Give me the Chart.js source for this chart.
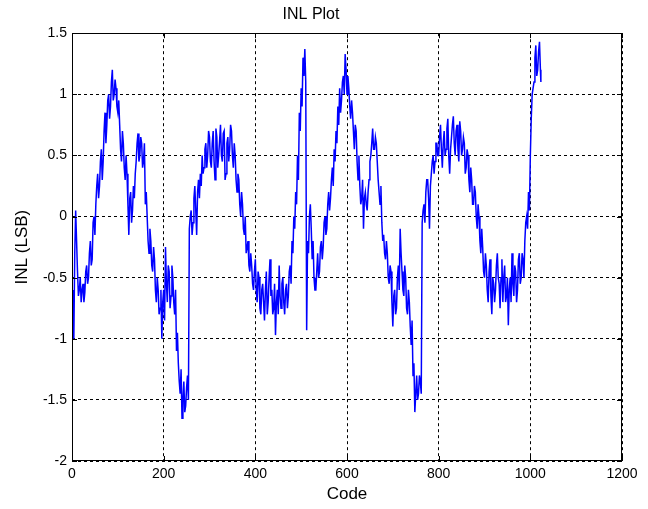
<!DOCTYPE html>
<html>
<head>
<meta charset="utf-8">
<script src="https://cdn.jsdelivr.net/npm/chart.js@4/dist/chart.umd.min.js"></script>
<style>
html,body{margin:0;padding:0;background:#fff;}
#wrap{width:648px;height:509px;}
</style>
</head>
<body>
<div id="wrap"><canvas id="c" width="648" height="509"></canvas></div>
<script>
// INL values at codes 0,4,8,... (last one at code 1023)
const inl = [
 -0.6,-1.0,0.05,-0.45,-0.6,-0.7,-0.55,-0.62,-0.4,-0.5,
 -0.2,-0.35,0.0,0.1,0.35,0.25,0.55,0.45,0.85,0.75,
 1.0,0.9,1.2,1.0,1.05,0.85,0.75,0.45,0.6,0.3,
 0.35,-0.15,0.2,0.05,0.15,0.45,0.68,0.5,0.6,0.45,
 0.1,0.0,-0.3,-0.2,-0.45,-0.35,-0.7,-0.6,-0.75,-1.0,
 -0.6,-0.25,-0.7,-0.45,-0.65,-0.5,-0.8,-1.1,-1.2,-1.45,
 -1.65,-1.35,-1.55,-1.3,-0.1,0.05,-0.05,0.25,-0.15,0.3,
 0.35,0.5,0.4,0.6,0.5,0.65,0.4,0.7,0.3,0.65,
 0.5,0.75,0.45,0.7,0.35,0.65,0.55,0.7,0.4,0.5,
 0.2,0.3,0.0,0.1,-0.15,-0.3,-0.2,-0.45,-0.4,-0.6,
 -0.35,-0.7,-0.5,-0.8,-0.55,-0.85,-0.45,-0.7,-0.35,-0.6,
 -0.75,-0.97,-0.6,-0.4,-0.75,-0.5,-0.8,-0.55,-0.65,-0.4,
 -0.2,0.0,0.2,0.5,0.85,1.05,1.3,1.37,-0.93,-0.3,
 0.1,-0.35,-0.5,-0.6,-0.3,-0.45,-0.2,-0.25,0.0,-0.1,
 0.2,0.15,0.4,0.55,0.7,0.9,1.05,0.95,1.15,1.33,
 1.0,1.05,0.8,0.85,0.55,0.7,0.3,0.25,0.15,-0.1,
 0.2,0.05,0.3,0.5,0.72,0.55,0.6,0.3,0.1,-0.05,
 -0.15,-0.35,-0.3,-0.55,-0.45,-0.9,-0.6,-0.75,-0.4,-0.1,
 -0.45,-0.65,-0.5,-0.8,-0.7,-1.05,-1.3,-1.6,-1.3,-1.45,
 -1.35,-0.05,0.1,0.2,0.3,-0.1,0.35,0.5,0.45,0.6,
 0.5,0.75,0.4,0.7,0.55,0.8,0.35,0.65,0.82,0.5,
 0.75,0.45,0.7,0.55,0.6,0.4,0.5,0.2,0.3,0.1,
 0.2,-0.1,0.0,-0.3,-0.25,-0.5,-0.4,-0.7,-0.35,-0.8,
 -0.55,-0.6,-0.3,-0.55,-0.5,-0.7,-0.4,-0.65,-0.89,-0.5,
 -0.3,-0.65,-0.45,-0.6,-0.3,-0.5,-0.35,-0.2,0.0,0.2,
 0.5,1.0,1.1,1.4,1.2,1.43,1.1
];
// INL values read at the in-between codes 2,6,10,...,1022
const inlMid = [
 -0.8,-0.3,-0.2,-0.65,-0.5,-0.6,-0.7,-0.45,-0.55,-0.3,
 -0.4,-0.05,-0.15,0.25,0.15,0.45,0.3,0.7,0.6,0.95,
 0.8,1.1,0.95,1.12,0.9,0.95,0.55,0.7,0.4,0.5,
 0.1,0.15,-0.05,0.25,0.35,0.6,0.45,0.65,0.4,0.6,
 0.2,-0.2,-0.1,-0.4,-0.25,-0.6,-0.5,-0.8,-0.6,-0.7,
 -0.85,-0.55,-0.4,-0.75,-0.4,-0.7,-0.6,-0.95,-1.35,-1.25,
 -1.5,-1.6,-1.4,-1.5,0.0,-0.15,0.15,0.05,0.2,0.15,
 0.25,0.35,0.55,0.4,0.7,0.45,0.6,0.45,0.72,0.4,
 0.62,0.5,0.68,0.3,0.6,0.45,0.75,0.5,0.6,0.3,
 0.35,0.1,0.2,-0.1,0.0,-0.25,-0.4,-0.3,-0.55,-0.45,
 -0.6,-0.45,-0.75,-0.6,-0.7,-0.6,-0.8,-0.5,-0.65,-0.8,
 -0.55,-0.7,-0.8,-0.65,-0.55,-0.7,-0.6,-0.75,-0.45,-0.55,
 -0.3,-0.1,0.1,0.3,0.7,0.9,1.15,1.1,-0.2,0.0,
 -0.1,-0.2,-0.6,-0.45,-0.5,-0.25,-0.35,-0.05,-0.15,0.1,
 0.05,0.3,0.25,0.45,0.6,0.75,0.85,1.1,1.0,1.2,
 1.15,0.9,0.95,0.7,0.75,0.45,0.5,0.1,0.3,0.15,
 0.1,0.2,0.45,0.6,0.55,0.65,0.45,0.2,0.25,-0.2,
 -0.3,-0.2,-0.5,-0.4,-0.7,-0.65,-0.8,-0.5,-0.6,-0.3,
 -0.6,-0.4,-0.75,-0.6,-0.9,-0.85,-1.2,-1.45,-1.5,-1.3,
 -1.45,0.05,-0.05,0.3,0.15,0.25,0.45,0.35,0.6,0.5,
 0.65,0.55,0.6,0.5,0.72,0.5,0.55,0.75,0.6,0.7,
 0.55,0.78,0.5,0.65,0.35,0.55,0.3,0.4,0.1,0.25,
 0.0,0.1,-0.2,-0.1,-0.45,-0.3,-0.6,-0.45,-0.65,-0.5,
 -0.7,-0.4,-0.5,-0.75,-0.35,-0.5,-0.7,-0.5,-0.6,-0.7,
 -0.55,-0.4,-0.7,-0.35,-0.55,-0.3,-0.5,-0.05,-0.1,0.05,
 0.8,1.05,1.3,1.15,1.35,1.2
];
const codeStep = 4;
const lastCode = 1023;
const xTicks = [0,200,400,600,800,1000,1200];
const yTicks = [-2,-1.5,-1,-0.5,0,0.5,1,1.5];
const titleText = 'INL Plot';
const xTitle = 'Code';
const yTitle = 'INL (LSB)';

const points = [];
inl.forEach((v,i)=>{
  points.push({x: Math.min(i*codeStep, lastCode), y: v});
  if (i < inlMid.length) points.push({x: i*codeStep + codeStep/2, y: inlMid[i]});
});

const FONT = 'Liberation Sans, Arial, Helvetica, sans-serif';

const boxPlugin = {
  id:'box',
  afterDatasetsDraw(chart){
    const {ctx, chartArea:a} = chart;
    ctx.save();
    ctx.strokeStyle='#000';
    ctx.lineWidth=1;
    ctx.setLineDash([]);
    ctx.strokeRect(Math.round(a.left)+0.5, Math.round(a.top)+0.5, Math.round(a.right-a.left)-1, Math.round(a.bottom-a.top)-1);
    const xs = chart.scales.x, ys = chart.scales.y;
    ctx.beginPath();
    xTicks.forEach(t=>{const px=Math.round(xs.getPixelForValue(t))+0.5;
      ctx.moveTo(px,a.bottom);ctx.lineTo(px,a.bottom-5);ctx.moveTo(px,a.top);ctx.lineTo(px,a.top+5);});
    yTicks.forEach(t=>{const py=Math.round(ys.getPixelForValue(t))+0.5;
      ctx.moveTo(a.left,py);ctx.lineTo(a.left+5,py);ctx.moveTo(a.right,py);ctx.lineTo(a.right-5,py);});
    ctx.stroke();
    ctx.restore();
  }
};

new Chart(document.getElementById('c'), {
  type:'line',
  data:{datasets:[{data:points, borderColor:'#0000ff', borderWidth:1.5, pointRadius:0, tension:0, fill:false}]},
  options:{
    responsive:false, animation:false,
    layout:{padding:{left:0,right:26,top:0,bottom:0}},
    plugins:{
      legend:{display:false}, tooltip:{enabled:false},
      title:{display:true, text:titleText, color:'#000',
        font:{family:FONT, size:16, weight:'normal'},
        padding:{top:5,bottom:9}}
    },
    scales:{
      x:{type:'linear', min:0, max:1200,
        afterBuildTicks(s){ s.ticks = xTicks.map(v=>({value:v})); },
        afterFit(s){ s.height = 48; },
        grid:{color:'#000', lineWidth:1, drawTicks:false},
        border:{display:false, dash:[3,3]},
        ticks:{color:'#000', padding:5, maxRotation:0,
          font:{family:FONT, size:14},
          callback:v=>String(v)},
        title:{display:true, text:xTitle, color:'#000',
          font:{family:FONT, size:17},
          padding:{top:0,bottom:4}}
      },
      y:{type:'linear', min:-2, max:1.5,
        afterBuildTicks(s){ s.ticks = yTicks.map(v=>({value:v})); },
        afterFit(s){ s.width = 72; },
        grid:{color:'#000', lineWidth:1, drawTicks:false},
        border:{display:false, dash:[3,3]},
        ticks:{color:'#000', padding:5,
          font:{family:FONT, size:14},
          callback:v=>String(v)},
        title:{display:true, text:yTitle, color:'#000',
          font:{family:FONT, size:17},
          padding:{top:12,bottom:0}}
      }
    }
  },
  plugins:[boxPlugin]
});
</script>
</body>
</html>
